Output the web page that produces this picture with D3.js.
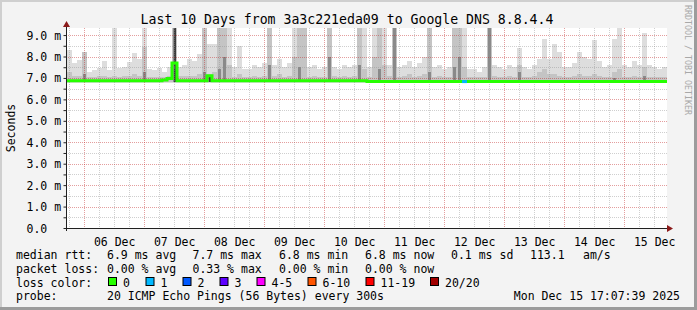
<!DOCTYPE html>
<html>
<head>
<meta charset="utf-8">
<title>Smokeping - Last 10 Days</title>
<style type="text/css">
body { margin: 0; background: #fff; }
svg { display: block; }
svg text { font-family: "DejaVu Sans Mono", monospace; }
.axis path { display: none; }
</style>
<script src="https://cdn.jsdelivr.net/npm/d3@7"></script>
</head>
<body>
<svg width="697" height="310"></svg>
<script type="text/javascript">

// time range of the graph (10 days, 2 hour columns)
var startTime = Date.UTC(2025, 11, 5, 17, 7, 39),
    endTime = Date.UTC(2025, 11, 15, 17, 7, 39),
    stepMs = 2 * 3600 * 1000;

var yMax = 9.33;          // ms, top of the plot
var smokeFloor = 6.76;    // ms, lowest ping

// highest ping per column (ms)
var smokeMax = [
  8.3, 7.7, 7.85, 8.2, 7.3, 7.35, 7.45, 7.8, 7.35, 9.33,
  7.45, 7.5, 7.75, 8.15, 7.9, 9.33, 7.4, 7.35, 7.45, 7.3,
  7.5, 9.33, 7.5, 7.6, 7.9, 7.8, 8.1, 9.33, 8.6, 8.6,
  9.33, 9.33, 9.33, 7.5, 8.5, 7.4, 7.4, 7.6, 7.5, 7.7,
  9.33, 7.6, 7.9, 7.5, 7.7, 9.33, 9.33, 9.33, 7.5, 7.6,
  7.4, 7.5, 9.33, 7.5, 7.4, 7.6, 7.5, 7.6, 9.33, 9.33,
  7.5, 9.33, 9.33, 9.33, 7.6, 9.33, 7.5, 7.6, 7.8, 7.5,
  7.7, 8.0, 9.33, 7.5, 7.6, 7.4, 7.5, 9.33, 9.33, 9.33,
  7.4, 7.4, 7.3, 7.5, 9.33, 7.6, 7.5, 7.4, 7.6, 7.5,
  8.4, 7.5, 7.4, 7.6, 7.9, 8.8, 7.9, 8.6, 8.2, 7.5,
  7.5, 7.7, 8.2, 8.0, 7.9, 8.75, 7.8, 7.5, 7.6, 8.8,
  9.33, 7.6, 7.5, 7.8, 7.6, 9.1, 7.6, 7.5, 7.4, 7.5
];

// inner (denser) part of the smoke per column (ms)
var smokeMid = [
  7.3, 7.1, 7.1, 8.2, 7.05, 7.05, 7.1, 7.1, 7.05, 7.1,
  7.05, 7.1, 7.1, 7.2, 7.1, 8.45, 7.05, 7.05, 7.05, 7.05,
  7.1, 9.33, 7.1, 7.1, 7.1, 7.1, 7.2, 9.33, 7.2, 7.3,
  9.33, 9.33, 7.6, 7.05, 7.2, 7.05, 7.05, 7.1, 7.05, 7.1,
  9.33, 7.1, 7.2, 7.05, 7.1, 8.0, 9.33, 9.33, 7.05, 7.1,
  7.05, 7.05, 9.33, 7.1, 7.05, 7.1, 7.05, 7.1, 9.33, 7.4,
  7.05, 8.0, 9.33, 7.6, 7.1, 9.33, 7.05, 7.1, 7.2, 7.05,
  7.1, 7.2, 9.33, 7.05, 7.1, 7.05, 7.05, 9.33, 9.33, 7.5,
  7.05, 7.05, 7.05, 7.05, 9.33, 7.1, 7.05, 7.05, 7.1, 7.05,
  7.6, 7.05, 7.05, 7.1, 7.3, 7.4, 7.2, 7.2, 7.1, 7.05,
  7.05, 7.1, 7.2, 7.1, 7.1, 7.2, 7.1, 7.05, 7.05, 7.3,
  7.4, 7.05, 7.05, 7.1, 7.05, 7.5, 7.05, 7.05, 7.05, 7.05
];

// darker part of the smoke per column (ms, 0 = none)
var smokeDark = [
  0, 0, 0, 7.2, 0, 0, 0, 0, 0, 0,
  0, 0, 0, 0, 0, 7.3, 0, 0, 0, 0,
  0, 9.33, 0, 0, 0, 0, 0, 7.3, 7.1, 0,
  7.4, 8.0, 0, 0, 0, 0, 0, 0, 0, 0,
  7.6, 0, 0, 0, 0, 0, 7.5, 0, 0, 0,
  0, 0, 8.0, 0, 0, 0, 0, 0, 7.6, 0,
  0, 0, 7.4, 0, 0, 9.33, 0, 0, 0, 0,
  0, 0, 7.3, 0, 0, 0, 0, 7.5, 8.0, 0,
  0, 0, 0, 0, 9.33, 0, 0, 0, 0, 0,
  7.3, 0, 0, 0, 0, 0, 0, 0, 0, 0,
  0, 0, 0, 0, 0, 0, 0, 0, 0, 7.0,
  0, 0, 0, 0, 0, 7.1, 0, 0, 0, 0
];

// core of the smoke, where most pings sit high (ms, 0 = none)
var smokeCore = [
  0, 0, 0, 0, 0, 0, 0, 0, 0, 0,
  0, 0, 0, 0, 0, 0, 0, 0, 0, 0,
  0, 9.33, 0, 0, 0, 0, 0, 0, 7.05, 0,
  0, 0, 0, 0, 0, 0, 0, 0, 0, 0,
  0, 0, 0, 0, 0, 0, 0, 0, 0, 0,
  0, 0, 0, 0, 0, 0, 0, 0, 0, 0,
  0, 0, 0, 0, 0, 0, 0, 0, 0, 0,
  0, 0, 0, 0, 0, 0, 0, 0, 0, 0,
  0, 0, 0, 0, 0, 0, 0, 0, 0, 0,
  0, 0, 0, 0, 0, 0, 0, 0, 0, 0,
  0, 0, 0, 0, 0, 0, 0, 0, 0, 0,
  0, 0, 0, 0, 0, 0, 0, 0, 0, 0
];

// median rtt per column (ms)
var median = [
  6.87, 6.87, 6.87, 6.87, 6.87, 6.87, 6.87, 6.87, 6.87, 6.87,
  6.87, 6.87, 6.87, 6.87, 6.87, 6.87, 6.87, 6.87, 6.87, 6.9,
  6.97, 7.7, 6.87, 6.87, 6.87, 6.87, 6.87, 6.87, 7.1, 6.87,
  6.87, 6.87, 6.87, 6.87, 6.87, 6.87, 6.87, 6.87, 6.87, 6.87,
  6.87, 6.87, 6.87, 6.87, 6.87, 6.87, 6.87, 6.87, 6.87, 6.87,
  6.87, 6.87, 6.87, 6.87, 6.87, 6.87, 6.87, 6.87, 6.87, 6.87,
  6.83, 6.83, 6.83, 6.83, 6.83, 6.83, 6.83, 6.83, 6.83, 6.83,
  6.83, 6.83, 6.83, 6.83, 6.83, 6.83, 6.83, 6.83, 6.83, 6.83,
  6.83, 6.83, 6.83, 6.83, 6.83, 6.83, 6.83, 6.83, 6.83, 6.83,
  6.83, 6.83, 6.83, 6.83, 6.83, 6.83, 6.83, 6.83, 6.83, 6.83,
  6.83, 6.83, 6.83, 6.83, 6.83, 6.83, 6.83, 6.83, 6.83, 6.83,
  6.83, 6.83, 6.83, 6.83, 6.83, 6.83, 6.83, 6.83, 6.83, 6.83
];

// lost packets (of 20) per column
var loss = [
  0, 0, 0, 0, 0, 0, 0, 0, 0, 0,
  0, 0, 0, 0, 0, 0, 0, 0, 0, 0,
  0, 0, 0, 0, 0, 0, 0, 0, 0, 0,
  0, 0, 0, 0, 0, 0, 0, 0, 0, 0,
  0, 0, 0, 0, 0, 0, 0, 0, 0, 0,
  0, 0, 0, 0, 0, 0, 0, 0, 0, 0,
  0, 0, 0, 0, 0, 0, 0, 0, 0, 0,
  0, 0, 0, 0, 0, 0, 0, 0, 0, 1,
  0, 0, 0, 0, 0, 0, 0, 0, 0, 0,
  0, 0, 0, 0, 0, 0, 0, 0, 0, 0,
  0, 0, 0, 0, 0, 0, 0, 0, 0, 0,
  0, 0, 0, 0, 0, 0, 0, 0, 0, 0
];

var yTicks = [0, 1, 2, 3, 4, 5, 6, 7, 8, 9];
var yTickLabels = ["0.0", "1.0 m", "2.0 m", "3.0 m", "4.0 m", "5.0 m", "6.0 m", "7.0 m", "8.0 m", "9.0 m"];

var lossLabels = ["0", "1", "2", "3", "4-5", "6-10", "11-19", "20/20"];
var lossMax = [0, 1, 2, 3, 5, 10, 19, 20];
var lossColors = ["#26ff00", "#00b8ff", "#0059ff", "#5e00ff", "#ff00ff", "#ff5500", "#ff0000", "#a10000"];

var rttStats = ["6.9 ms avg", "7.7 ms max", "6.8 ms min", "6.8 ms now", "0.1 ms sd", "113.1", "am/s"];
var lossStats = ["0.00 % avg", "0.33 % max", "0.00 % min", "0.00 % now"];

var title = "Last 10 Days from 3a3c221eda09 to Google DNS 8.8.4.4";
var probeText = "20 ICMP Echo Pings (56 Bytes) every 300s";
var dateText = "Mon Dec 15 17:07:39 2025";

var svg = d3.select("svg"),
    W = +svg.attr("width"),
    H = +svg.attr("height"),
    plot = {left: 67, top: 28, right: 667, bottom: 228};

var x = d3.scaleUtc().domain([startTime, endTime]).range([plot.left, plot.right]),
    y = d3.scaleLinear().domain([0, yMax]).range([plot.bottom, plot.top]);

// frame
svg.append("rect").attr("width", W).attr("height", H).attr("fill", "#f3f3f3");
svg.append("rect").attr("x", 0).attr("y", 0).attr("width", W).attr("height", 2).attr("fill", "#cfcfcf");
svg.append("rect").attr("x", 0).attr("y", 0).attr("width", 2).attr("height", H).attr("fill", "#cfcfcf");
svg.append("rect").attr("x", W - 3).attr("y", 0).attr("width", 3).attr("height", H).attr("fill", "#9c9c9c");
svg.append("rect").attr("x", 0).attr("y", H - 3).attr("width", W).attr("height", 3).attr("fill", "#9c9c9c");

svg.append("rect")
    .attr("x", plot.left).attr("y", plot.top)
    .attr("width", plot.right - plot.left).attr("height", plot.bottom - plot.top)
    .attr("fill", "#fff");

// smoke
var cols = d3.range(smokeMax.length);
function x0(i) { return x(startTime + i * stepMs); }
function x1(i) { return x(Math.min(endTime, startTime + (i + 1) * stepMs)); }

var smoke = svg.append("g").attr("shape-rendering", "crispEdges");
function band(values, color, inset, lift) {
  smoke.selectAll(null).data(cols.filter(function(i){ return values[i] > 0; })).enter().append("rect")
      .attr("x", function(i){ return x0(i) + inset; })
      .attr("width", function(i){ return x1(i) - x0(i) - 2 * inset; })
      .attr("y", function(i){ return y(values[i]); })
      .attr("height", function(i){ return y(smokeFloor + lift) - y(values[i]); })
      .attr("fill", color);
}
band(smokeMax, "#dddddd", 0, 0);
band(smokeMid, "#c4c4c4", 0, 0.03);
band(smokeDark, "#8a8a8a", 1, 0.05);
band(smokeCore, "#3c3c3c", 1.5, 0.06);

// grid: dotted, semi transparent, drawn as 1px dots so they stay sharp
var grid = svg.append("g").attr("shape-rendering", "crispEdges");
function hDots(yv, color, alpha) {
  var yy = Math.round(y(yv));
  grid.append("g").attr("fill", color).attr("fill-opacity", alpha)
    .selectAll("rect").data(d3.range(plot.left + 1, plot.right, 2)).enter().append("rect")
      .attr("x", function(d){ return d; }).attr("y", yy)
      .attr("width", 1).attr("height", 1);
}
function vDots(t, color, alpha) {
  var xx = Math.round(x(t));
  grid.append("g").attr("fill", color).attr("fill-opacity", alpha)
    .selectAll("rect").data(d3.range(plot.top, plot.bottom, 2)).enter().append("rect")
      .attr("x", xx).attr("y", function(d){ return d; })
      .attr("width", 1).attr("height", 1);
}
var minorY = d3.range(0.5, yMax, 1);
var minorX = d3.utcHour.every(6).range(new Date(startTime), new Date(endTime))
    .filter(function(d){ return d.getUTCHours() !== 0; });
var majorX = d3.utcDay.range(new Date(startTime), new Date(endTime));
minorY.forEach(function(v){ hDots(v, "#8c8c8c", 0.42); });
minorX.forEach(function(t){ vDots(t, "#8c8c8c", 0.42); });
yTicks.slice(1).forEach(function(v){ hDots(v, "#c01e1e", 0.43); });
majorX.forEach(function(t){ vDots(t, "#c01e1e", 0.43); });

// median line, coloured by loss
var medianPts = cols.map(function(i){ return [startTime + i * stepMs, median[i]]; });
medianPts.push([endTime, median[median.length - 1]]);
svg.append("path")
    .datum(medianPts)
    .attr("fill", "none")
    .attr("stroke", lossColors[0])
    .attr("stroke-width", 3)
    .attr("d", d3.line().curve(d3.curveStepAfter)
        .x(function(d){ return x(d[0]); }).y(function(d){ return y(d[1]); }));

function lossColor(n) {
  for (var k = 0; k < lossMax.length; k++) if (n <= lossMax[k]) return lossColors[k];
  return lossColors[lossColors.length - 1];
}
svg.selectAll(".lossSeg").data(cols.filter(function(i){ return loss[i] > 0; })).enter().append("line")
    .attr("x1", x0).attr("x2", x1)
    .attr("y1", function(i){ return y(median[i]); }).attr("y2", function(i){ return y(median[i]); })
    .attr("stroke", function(i){ return lossColor(loss[i]); })
    .attr("stroke-width", 3);

// axes
var yAxis = d3.axisLeft(y).tickValues(d3.range(0, yMax, 0.5)).tickSize(3).tickPadding(0)
    .tickFormat(function(d){ var k = yTicks.indexOf(d); return k < 0 ? "" : yTickLabels[k]; });
var gy = svg.append("g").attr("class", "axis")
    .attr("transform", "translate(" + (plot.left - 0.5) + ",0)")
    .call(yAxis);
gy.selectAll(".tick line").attr("stroke", "#202020");
gy.selectAll("text")
    .attr("text-anchor", "start")
    .attr("x", 27 - plot.left)
    .attr("dy", "0.35em")
    .attr("font-size", "11.5px")
    .attr("font-family", "DejaVu Sans Mono")
    .attr("fill", "#000");

var noonTicks = d3.utcDay.range(new Date(startTime), new Date(endTime))
    .map(function(d){ return d3.utcHour.offset(d, 12); })
    .filter(function(d){ return +d < endTime; });
var xAxis = d3.axisBottom(x).tickValues(noonTicks).tickSize(0).tickPadding(9)
    .tickFormat(d3.utcFormat("%d %b"));
var gx = svg.append("g").attr("class", "axis")
    .attr("transform", "translate(0," + (plot.bottom + 0.5) + ")")
    .call(xAxis);
gx.selectAll("text")
    .attr("font-size", "11.5px")
    .attr("font-family", "DejaVu Sans Mono")
    .attr("fill", "#000");

// axis lines and arrows
svg.append("line").attr("x1", plot.left - 3).attr("x2", plot.right + 2)
    .attr("y1", plot.bottom + 0.5).attr("y2", plot.bottom + 0.5)
    .attr("stroke", "#202020");
svg.append("line").attr("x1", plot.left - 0.5).attr("x2", plot.left - 0.5)
    .attr("y1", plot.bottom + 3).attr("y2", plot.top - 2)
    .attr("stroke", "#202020");
svg.append("path")
    .attr("d", "M" + (plot.right + 6) + "," + (plot.bottom + 0.5) + "L" + plot.right + "," + (plot.bottom - 3) + "L" + plot.right + "," + (plot.bottom + 4) + "Z")
    .attr("fill", "#8b1a1a");
svg.append("path")
    .attr("d", "M" + (plot.left - 0.5) + "," + (plot.top - 7) + "L" + (plot.left - 4) + "," + (plot.top - 1) + "L" + (plot.left + 3) + "," + (plot.top - 1) + "Z")
    .attr("fill", "#8b1a1a");

// titles
svg.append("text")
    .attr("x", 347).attr("y", 23.5)
    .attr("text-anchor", "middle")
    .attr("font-size", "13.2px")
    .text(title);
svg.append("text")
    .attr("transform", "translate(14.5," + ((plot.top + plot.bottom) / 2) + ") rotate(-90)")
    .attr("text-anchor", "middle")
    .attr("font-size", "11.5px")
    .text("Seconds");
svg.append("text")
    .attr("transform", "translate(685,5) rotate(90)")
    .attr("font-size", "8.3px")
    .attr("fill", "#a8a8a8")
    .text("RRDTOOL / TOBI OETIKER");

// legend
var legend = svg.append("g").attr("font-size", "11.5px").attr("fill", "#000");
var statX = [107, 192.5, 279, 365, 451, 530, 583];
legend.append("text").attr("x", 16).attr("y", 258.5).text("median rtt:");
legend.selectAll(".rtt").data(rttStats).enter().append("text")
    .attr("x", function(d, i){ return statX[i]; }).attr("y", 258.5)
    .text(function(d){ return d; });
legend.append("text").attr("x", 16).attr("y", 272.5).text("packet loss:");
legend.selectAll(".pl").data(lossStats).enter().append("text")
    .attr("x", function(d, i){ return statX[i]; }).attr("y", 272.5)
    .text(function(d){ return d; });

legend.append("text").attr("x", 16).attr("y", 286.5).text("loss color:");
var boxX = [108, 145.5, 182.5, 219.5, 256.5, 307.5, 365.5, 430];
legend.selectAll(".lcBox").data(lossColors).enter().append("rect")
    .attr("x", function(d, i){ return boxX[i] + 0.5; }).attr("y", 277.5)
    .attr("width", 8).attr("height", 8)
    .attr("fill", function(d){ return d; })
    .attr("stroke", "#000");
legend.selectAll(".lcText").data(lossLabels).enter().append("text")
    .attr("x", function(d, i){ return boxX[i] + 15; }).attr("y", 286.5)
    .text(function(d){ return d; });

legend.append("text").attr("x", 16).attr("y", 300).text("probe:");
legend.append("text").attr("x", 107).attr("y", 300).text(probeText);
legend.append("text").attr("x", 680).attr("y", 300).attr("text-anchor", "end").text(dateText);

</script>
</body>
</html>
